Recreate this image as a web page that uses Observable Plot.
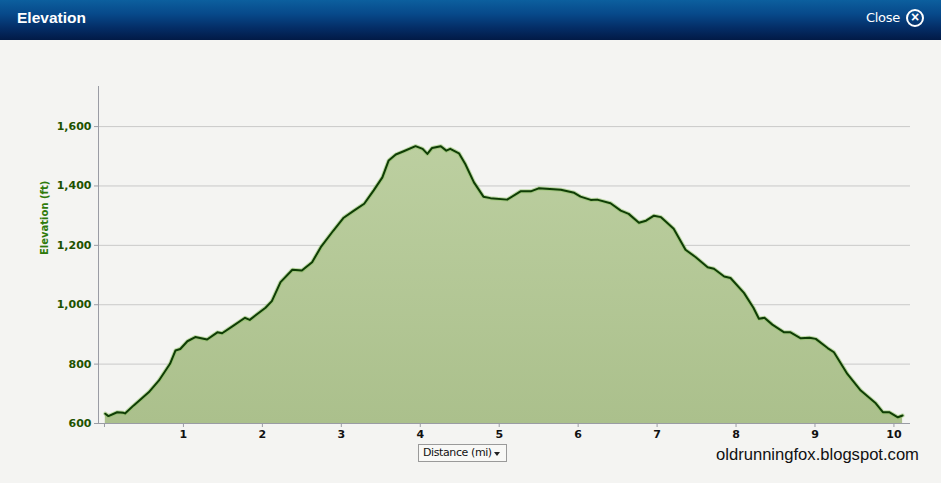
<!DOCTYPE html>
<html>
<head>
<meta charset="utf-8">
<script src="https://cdn.jsdelivr.net/npm/d3@7"></script>
<script src="https://cdn.jsdelivr.net/npm/@observablehq/plot@0.6"></script>
<style>
  html, body { margin: 0; padding: 0; }
  body { width: 941px; height: 483px; background: #f4f4f2; overflow: hidden; font-family: "Liberation Sans", Arial, sans-serif; position: relative; }
  #header { height: 40px; position: relative; color: #fff;
    background: linear-gradient(to bottom, #0c5f9e 0%, #07498a 35%, #042d66 70%, #021a46 100%); }
  #title { position: absolute; left: 17px; top: 9px; font-size: 15.5px; font-weight: bold; font-family: "Liberation Sans", Arial, sans-serif; }
  #close { position: absolute; left: 866px; top: 10px; font-size: 13px; font-family: "DejaVu Sans", Verdana, sans-serif; letter-spacing: -0.3px; }
  #closeicon { position: absolute; left: 906px; top: 9px; width: 14px; height: 14px; border: 2px solid #fff; border-radius: 50%; font-size: 14px; line-height: 13px; text-align: center; font-weight: bold; }
  #chart { position: absolute; left: 0; top: 40px; }
  #dropdown { position: absolute; left: 418px; top: 444px; width: 87px; height: 16px; border: 1px solid #9a9a9a; background: #f8f8f6; font-size: 11px; font-family: "DejaVu Sans", Verdana, sans-serif; color: #111; line-height: 16px; box-sizing: content-box; }
  #dropdown span.lbl { position: absolute; left: 4px; top: 0; letter-spacing: -0.4px; }
  #dropdown span.arr { position: absolute; left: 75px; top: 7px; width: 0; height: 0; border-left: 3.5px solid transparent; border-right: 3.5px solid transparent; border-top: 4px solid #222; }
  #watermark { position: absolute; left: 716px; top: 445px; font-size: 16.6px; color: #111; font-family: "Liberation Sans", Arial, sans-serif; }
</style>
</head>
<body>
<div id="header">
  <div id="title">Elevation</div>
  <div id="close">Close</div>
  <div id="closeicon">×</div>
</div>
<div id="chart"></div>
<div id="dropdown"><span class="lbl">Distance (mi)</span><span class="arr"></span></div>
<div id="watermark">oldrunningfox.blogspot.com</div>
<script>
const distance = [0.01,0.05,0.16,0.24,0.26,0.37,0.56,0.69,0.83,0.90,0.96,1.05,1.15,1.30,1.43,1.49,1.62,1.78,1.84,2.04,2.12,2.23,2.38,2.50,2.63,2.74,2.90,3.03,3.16,3.29,3.41,3.52,3.60,3.69,3.79,3.94,4.03,4.09,4.15,4.26,4.33,4.38,4.49,4.57,4.68,4.80,4.89,5.10,5.27,5.40,5.50,5.69,5.78,5.95,6.03,6.16,6.24,6.41,6.54,6.64,6.77,6.86,6.96,7.05,7.21,7.36,7.49,7.64,7.72,7.85,7.93,8.10,8.22,8.29,8.36,8.46,8.61,8.69,8.82,8.93,9.01,9.16,9.24,9.41,9.58,9.77,9.86,9.94,10.05,10.11];
const elevation = [633,625,638,636,634,661,705,745,801,846,851,877,891,883,907,904,927,956,949,990,1012,1076,1118,1115,1143,1194,1250,1293,1317,1340,1385,1429,1486,1506,1517,1534,1525,1508,1528,1534,1519,1525,1510,1474,1412,1364,1359,1354,1382,1382,1392,1389,1387,1377,1364,1353,1354,1342,1317,1306,1276,1283,1300,1295,1256,1185,1160,1126,1121,1095,1090,1040,990,953,956,933,907,907,887,889,885,854,840,767,711,668,638,638,621,627];
const xTicks = [0,1,2,3,4,5,6,7,8,9,10];
const yTicks = [600,800,1000,1200,1400,1600];
const yLabel = "Elevation (ft)";

const data = distance.map((d, i) => ({d, e: elevation[i]}));
const xDomain = [-0.076, 10.21];
const yDomain = [600, 1735];

const plot = Plot.plot({
  width: 941,
  height: 443,
  marginLeft: 98,
  marginRight: 31,
  marginTop: 46,
  marginBottom: 60,
  style: {background: "transparent", fontFamily: "'DejaVu Sans', Verdana, sans-serif", overflow: "visible"},
  x: {domain: xDomain},
  y: {domain: yDomain},
  marks: [
    Plot.ruleY(yTicks.slice(1), {stroke: "#c9c9c9", strokeWidth: 1}),
    Plot.areaY(data, {x: "d", y1: 600, y2: "e", fill: "url(#elevFill)"}),
    Plot.lineY(data, {x: "d", y: "e", stroke: "#8cc063", strokeWidth: 4, strokeOpacity: 0.55}),
    Plot.lineY(data, {x: "d", y: "e", stroke: "#0f3d05", strokeWidth: 2}),
    Plot.ruleX([xDomain[0]], {y1: yDomain[0], y2: yDomain[1], stroke: "#9a9ca4"}),
    Plot.ruleY([600], {x1: xDomain[0], x2: xDomain[1], stroke: "#9a9ca4"}),
    Plot.axisY(yTicks, {tickSize: 4, tickPadding: 3, stroke: "#9a9ca4", fill: "#1e5200", fontWeight: "bold", fontSize: 11, tickFormat: d3.format(","), label: null}),
    Plot.axisX(xTicks, {tickSize: 4, tickPadding: 3, stroke: "#9a9ca4", fill: "#111", fontWeight: "bold", fontSize: 11, tickFormat: d => d === 0 ? "" : d, label: null}),
    Plot.text([yLabel], {frameAnchor: "left", dx: -54, rotate: -90, fill: "#2e7a0a", fontWeight: "bold", fontSize: 10})
  ]
});

const ns = "http://www.w3.org/2000/svg";
const defs = document.createElementNS(ns, "defs");
defs.innerHTML = '<linearGradient id="elevFill" x1="0" y1="0" x2="0" y2="1"><stop offset="0" stop-color="#bccfa0"/><stop offset="1" stop-color="#abc08c"/></linearGradient>';
plot.insertBefore(defs, plot.firstChild);
document.getElementById("chart").appendChild(plot);
</script>
</body>
</html>
